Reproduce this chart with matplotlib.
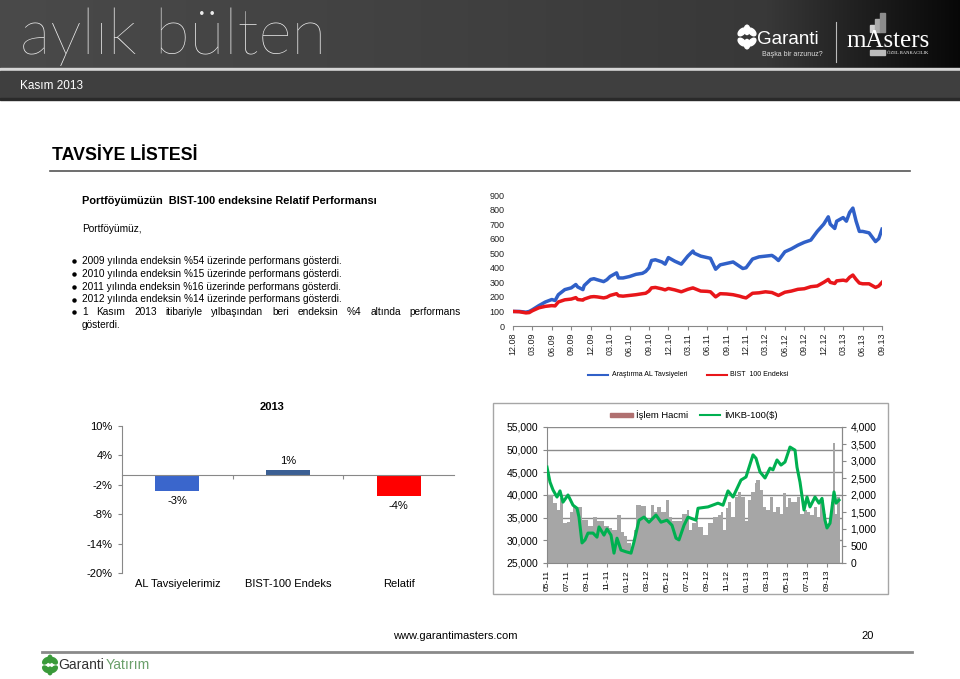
import numpy as np
import matplotlib
matplotlib.use('Agg')
import matplotlib.pyplot as plt
from matplotlib.patches import Rectangle, Ellipse
from matplotlib.lines import Line2D
from matplotlib.ticker import FuncFormatter
import matplotlib.transforms as mtransforms

plt.rcParams['font.family'] = ['Liberation Sans', 'DejaVu Sans']

# ---------------- DATA ----------------
# Chart 1: relative performance (months since Dec 2008)
perf_tick_labels = ['12.08', '03.09', '06.09', '09.09', '12.09', '03.10', '06.10', '09.10',
                    '12.10', '03.11', '06.11', '09.11', '12.11', '03.12', '06.12', '09.12',
                    '12.12', '03.13', '06.13', '09.13']
perf_months = [0, 1, 2, 2.5, 3, 4, 5, 6, 6.5, 7, 8, 9, 9.7, 10, 10.8, 11, 12, 12.5, 13, 14,
               14.5, 15, 16, 16.3, 17, 18, 19, 20, 20.5, 21, 21.4, 22, 23, 23.5, 24, 25, 26, 27,
               27.8, 28, 29, 30, 30.5, 31.3, 32, 33, 34, 35, 35.5, 36, 37, 38, 39, 40, 40.5, 41,
               42, 43, 44, 45, 46, 47, 48, 48.7, 49, 49.7, 50, 51, 51.5, 52, 52.5, 53, 53.5, 54,
               55, 56, 56.5, 57]
al_tavsiye = [100, 100, 95, 100, 112, 140, 165, 182, 175, 215, 250, 262, 285, 268, 250, 278, 320,
              325, 318, 305, 318, 340, 365, 330, 330, 340, 355, 362, 375, 400, 450, 455, 440, 425,
              470, 445, 425, 480, 515, 500, 480, 470, 465, 390, 420, 430, 440, 410, 395, 400, 460,
              475, 480, 485, 470, 450, 510, 530, 555, 575, 590, 650, 700, 750, 700, 670, 720, 745,
              720, 780, 810, 720, 650, 650, 640, 580, 600, 665]
bist100 = [100, 98, 90, 92, 105, 125, 135, 140, 138, 165, 180, 185, 195, 182, 178, 185, 200, 202,
           200, 193, 198, 210, 222, 208, 205, 210, 215, 222, 225, 240, 262, 265, 255, 248, 258,
           248, 235, 252, 262, 258, 240, 238, 235, 200, 222, 220, 215, 205, 198, 193, 225, 228,
           235, 230, 220, 210, 232, 240, 252, 256, 270, 275, 300, 320, 300, 292, 310, 315, 310,
           335, 350, 320, 295, 290, 290, 265, 275, 300]

# Chart 2: 2013 returns
bar_categories = ['AL Tavsiyelerimiz', 'BIST-100 Endeks', 'Relatif']
bar_values = [-3.2, 1.1, -4.3]
bar_labels = ['-3%', '1%', '-4%']

# Chart 3: volume and index (months since May 2011)
vol_tick_labels = ['05-11', '07-11', '09-11', '11-11', '01-12', '03-12', '05-12', '07-12',
                   '09-12', '11-12', '01-13', '03-13', '05-13', '07-13', '09-13']
vol_months = [0.0, 0.3, 0.6, 1.0, 1.3, 1.6, 2.0, 2.3, 2.6, 3.1, 3.5, 3.8, 4.1, 4.6, 5.0, 5.4, 5.7,
              6.2, 6.5, 7.0, 7.4, 7.7, 8.0, 8.4, 8.7, 8.9, 9.4, 9.9, 10.4, 10.7, 11.0, 11.4, 11.9,
              12.2, 12.5, 13.0, 13.5, 14.0, 14.2, 14.5, 14.9, 15.1, 15.6, 16.1, 16.6, 17.1, 17.4,
              17.6, 17.9, 18.1, 18.4, 18.8, 19.1, 19.4, 19.8, 20.1, 20.4, 20.8, 20.9, 21.3, 21.6,
              21.9, 22.3, 22.6, 22.9, 23.3, 23.6, 23.9, 24.1, 24.4, 24.8, 25.0, 25.3, 25.7, 26.0,
              26.3, 26.7, 27.0, 27.3, 27.7, 27.9, 28.2, 28.4, 28.6, 28.8, 29.0]
islem_hacmi = [40000, 40000, 38200, 36700, 39300, 33800, 34000, 36200, 37400, 37400, 34500, 34500,
               33200, 35100, 34300, 34300, 33200, 32700, 32300, 35600, 31800, 31000, 29400, 28300,
               32300, 37800, 37500, 34300, 37800, 36200, 37300, 36200, 38900, 35100, 34300, 34300,
               35800, 36700, 32300, 33900, 34300, 33000, 31200, 33900, 35100, 35600, 36200, 32300,
               37100, 38400, 35100, 39600, 40700, 39600, 34300, 38900, 40700, 42600, 43300, 41000,
               37400, 36700, 39600, 36200, 37300, 35800, 40500, 37400, 39300, 38400, 38400, 39600,
               35800, 36700, 36200, 35600, 37400, 35100, 38900, 35800, 32700, 34300, 38400, 51400,
               35800, 39600]
idx_months = [0, 0.3, 0.6, 1.0, 1.3, 1.6, 2.1, 2.6, 3.0, 3.2, 3.5, 3.8, 4.1, 4.6, 5.0, 5.2, 5.7,
              6.0, 6.4, 6.7, 7.0, 7.4, 7.9, 8.4, 8.7, 9.2, 9.7, 10.2, 10.9, 11.4, 12.0, 12.5, 12.9,
              13.2, 13.7, 14.1, 14.9, 15.1, 16.1, 17.1, 17.6, 18.1, 18.6, 19.4, 19.9, 20.6, 20.9,
              21.3, 21.8, 22.3, 22.6, 23.0, 23.4, 23.8, 24.3, 24.8, 25.0, 25.3, 25.7, 26.0, 26.3,
              26.8, 27.2, 27.5, 27.8, 28.0, 28.3, 28.7, 28.9, 29.2]
imkb100_usd = [2820, 2380, 2150, 1940, 2120, 1790, 2000, 1700, 1610, 1350, 590, 680, 880, 880, 760,
               1060, 820, 1000, 820, 290, 730, 380, 330, 290, 620, 1260, 1350, 1200, 1410, 1200,
               1260, 1110, 730, 680, 1110, 1350, 1260, 1610, 1650, 1760, 1700, 2120, 1940, 2440,
               2530, 3180, 3080, 2680, 2500, 2790, 2740, 3030, 2880, 2970, 3410, 3320, 2820, 2380,
               1560, 1940, 1650, 1940, 1760, 1900, 1260, 1030, 1170, 2090, 1760, 1850]

BLUE = '#3060c8'
RED = '#e8161a'
GREEN = '#00b050'

# ---------------- FIGURE ----------------
W, H = 960, 679
fig = plt.figure(figsize=(9.6, 6.79), dpi=100)
fig.patch.set_facecolor('white')
bg = fig.add_axes([0, 0, 1, 1])
bg.axis('off')


def rect(x0, y0, x1, y1):
    return [x0 / W, 1 - y1 / H, (x1 - x0) / W, (y1 - y0) / H]


# header gradient
xs = np.linspace(0, 1, 480)
g = np.interp(xs, [0, 0.5, 0.8, 0.9, 1.0], [0.29, 0.25, 0.22, 0.12, 0.03])
img = np.dstack([g, g, g])
bg.imshow(img, extent=[0, 960, 68, 0], aspect='auto', zorder=0, interpolation='bilinear')
bg.add_patch(Rectangle((0, 68), 960, 3, color='#d6d6d6', zorder=1))
bg.add_patch(Rectangle((0, 71), 960, 28, color='#3f3f3f', zorder=1))
bg.add_patch(Rectangle((0, 98), 960, 2, color='#2a2a2a', zorder=1))
bg.set_xlim(0, W)
bg.set_ylim(H, 0)

bg.text(20, 54, 'aylık bülten', fontsize=46, family=['Lato', 'DejaVu Sans'], weight='light',
        color='#ececec', va='baseline', zorder=3)
bg.text(20, 86, 'Kasım 2013', fontsize=8.5, color='white', va='center', zorder=3)


def clover(cx, cy, s, color):
    for ang in [45, 135, 225, 315, 90, 270]:
        r = np.deg2rad(ang)
        ex = cx + 0.42 * s * np.cos(r)
        ey = cy + 0.42 * s * np.sin(r)
        bg.add_patch(Ellipse((ex, ey), 0.55 * s, 0.32 * s, angle=-ang, color=color, zorder=3))


clover(747, 37, 17, 'white')
bg.text(757, 39, 'Garanti', fontsize=13.5, color='white', va='center', zorder=3)
bg.text(762, 54, 'Başka bir arzunuz?', fontsize=5, color='#dddddd', va='center', zorder=3)
bg.plot([836, 836], [22, 62], color='#bbbbbb', lw=0.8, zorder=3)
for x0, top, c in [(870, 25, '#cfcfcf'), (875, 19, '#a9a9a9'), (880, 13, '#8c8c8c')]:
    bg.add_patch(Rectangle((x0, top), 5, 32 - top, color=c, zorder=3))
bg.text(846, 41, 'mAsters', fontsize=18, family=['Liberation Serif', 'DejaVu Serif'],
        color='white', va='center', zorder=3)
bg.add_patch(Rectangle((870, 50), 15, 5, color='#bbbbbb', zorder=3))
bg.text(887, 53, 'ÖZEL BANKACILIK', fontsize=3.3, family=['Liberation Serif', 'DejaVu Serif'],
        color='white', va='center', zorder=3)

# title
bg.text(52, 155, 'TAVSİYE LİSTESİ', fontsize=12.8, weight='bold', color='black', va='center')
bg.plot([50, 910], [171, 171], color='#555555', lw=1.2)

BODY = 7.3
bg.text(82, 201, 'Portföyümüzün  BIST-100 endeksine Relatif Performansı', fontsize=7.9,
        weight='bold', va='center')
bg.text(82, 229, 'Portföyümüz,', fontsize=BODY, va='center')
bullets = ['2009 yılında endeksin %54 üzerinde performans gösterdi.',
           '2010 yılında endeksin %15 üzerinde performans gösterdi.',
           '2011 yılında endeksin %16 üzerinde performans gösterdi.',
           '2012 yılında endeksin %14 üzerinde performans gösterdi.',
           '1 Kasım 2013 itibariyle yılbaşından beri endeksin %4 altında performans']
by = [261, 274, 287, 299.5, 312]
for t, y in zip(bullets[:-1], by[:-1]):
    bg.plot([73.5], [y], marker='o', ms=2.2, color='black')
    bg.text(82, y, t, fontsize=BODY, va='center')
# justified first line of the wrapped last bullet
bg.plot([73.5], [by[-1]], marker='o', ms=2.2, color='black')
words = bullets[-1].split(' ')
wtexts = [bg.text(0, by[-1], w, fontsize=BODY, va='center') for w in words]
bg.text(82, 325, 'gösterdi.', fontsize=BODY, va='center')

# ---------------- CHART 1 ----------------
ax1 = fig.add_axes(rect(513, 195, 882, 326))
ax1.set_facecolor('none')
ax1.plot(perf_months, al_tavsiye, color=BLUE, lw=2.5, solid_joinstyle='round')
ax1.plot(perf_months, bist100, color=RED, lw=2.5, solid_joinstyle='round')
ax1.set_xlim(0, 57)
ax1.set_ylim(0, 900)
ax1.set_yticks(range(0, 901, 100))
ax1.set_xticks(range(0, 58, 3))
ax1.set_xticklabels(perf_tick_labels, rotation=90, fontsize=6.5)
ax1.tick_params(axis='y', length=0, labelsize=6.5, pad=6, labelcolor='#222222')
ax1.tick_params(axis='x', length=3, color='#888888', labelcolor='#222222', pad=2)
for s in ['top', 'right', 'left']:
    ax1.spines[s].set_visible(False)
ax1.spines['bottom'].set_color('#888888')

bg.add_line(Line2D([588, 608], [375, 375], color=BLUE, lw=1.5))
bg.text(612, 375, 'Araştırma AL Tavsiyeleri', fontsize=5, va='center')
bg.add_line(Line2D([707, 727], [375, 375], color=RED, lw=1.5))
bg.text(730, 375, 'BIST  100 Endeksi', fontsize=5, va='center')

# ---------------- CHART 2 ----------------
ax2 = fig.add_axes(rect(122, 426, 454, 573))
ax2.set_facecolor('none')
bar_colors = ['#3a66cc', '#3b5f93', '#ff0000']
ax2.bar(range(3), bar_values, width=0.4, color=bar_colors, zorder=2)
for i, (v, lab) in enumerate(zip(bar_values, bar_labels)):
    off = -10 if v < 0 else 9
    ax2.annotate(lab, (i, v), xytext=(0, off), textcoords='offset pixels', ha='center',
                 va='center', fontsize=8)
ax2.set_xlim(-0.5, 2.5)
ax2.set_ylim(-20, 10)
ax2.set_yticks([-20, -14, -8, -2, 4, 10])
ax2.yaxis.set_major_formatter(FuncFormatter(lambda v, p: f'{int(v)}%'))
ax2.tick_params(axis='y', length=3, color='#888888', labelsize=8, pad=4)
ax2.spines['bottom'].set_position(('data', 0))
ax2.spines['bottom'].set_color('#888888')
ax2.spines['left'].set_color('#888888')
for s in ['top', 'right']:
    ax2.spines[s].set_visible(False)
ax2.set_xticks([0.5, 1.5])
ax2.set_xticklabels(['', ''])
ax2.tick_params(axis='x', length=3, color='#888888', direction='out')
trans = mtransforms.blended_transform_factory(ax2.transData, ax2.transAxes)
for i, c in enumerate(bar_categories):
    ax2.text(i, -0.075, c, transform=trans, ha='center', va='center', fontsize=8)
bg.text(272, 407, '2013', fontsize=8, weight='bold', ha='center', va='center')

# ---------------- CHART 3 ----------------
bg.add_patch(Rectangle((493, 403), 395, 191, fill=False, edgecolor='#a6a6a6', lw=1))
ax3 = fig.add_axes(rect(547, 427, 842, 563))
ax3.set_facecolor('none')
widths = list(np.diff(vol_months)) + [0.3]
ax3.bar(vol_months, islem_hacmi, width=widths, align='edge', color='#a6a6a6', zorder=2,
        linewidth=0)
ax3.set_xlim(0, 29.5)
ax3.set_ylim(25000, 55000)
ax3.set_yticks(range(25000, 55001, 5000))
ax3.yaxis.set_major_formatter(FuncFormatter(lambda v, p: f'{int(v):,}'))
ax3.grid(axis='y', color='#8c8c8c', lw=1, zorder=0)
ax3.set_axisbelow(True)
ax3.set_xticks(range(0, 29, 2))
ax3.set_xticklabels(vol_tick_labels, rotation=90, fontsize=6)
ax3.tick_params(axis='y', labelsize=7.5, length=3, color='#888888', pad=3)
ax3.tick_params(axis='x', length=3, color='#888888', pad=2)
ax3.spines['top'].set_visible(False)
for s in ['left', 'bottom', 'right']:
    ax3.spines[s].set_color('#888888')

ax3r = ax3.twinx()
ax3r.plot(idx_months, imkb100_usd, color=GREEN, lw=2.2, zorder=3)
ax3r.set_ylim(0, 4000)
ax3r.set_yticks(range(0, 4001, 500))
ax3r.yaxis.set_major_formatter(FuncFormatter(lambda v, p: f'{int(v):,}'))
ax3r.tick_params(axis='y', labelsize=7.5, length=3, color='#888888', pad=3)
ax3r.spines['top'].set_visible(False)
ax3r.spines['right'].set_color('#888888')
ax3r.spines['left'].set_visible(False)
ax3r.spines['bottom'].set_visible(False)

bg.add_patch(Rectangle((610, 413), 23, 4, color='#b07070'))
bg.text(636, 415, 'İşlem Hacmi', fontsize=6.8, va='center')
bg.add_line(Line2D([700, 720], [415, 415], color=GREEN, lw=1.5))
bg.text(724, 415, 'İMKB-100($)', fontsize=6.8, va='center')

# ---------------- FOOTER ----------------
bg.text(455, 636, 'www.garantimasters.com', fontsize=8, ha='center', va='center')
bg.text(868, 636, '20', fontsize=8, ha='center', va='center')
bg.plot([42, 912], [652, 652], color='#8a8a8a', lw=2)
clover(50, 665, 14, '#3a9a3a')
bg.text(58, 665, 'Garanti', fontsize=10, color='#333333', va='center')
bg.text(106, 665, 'Yatırım', fontsize=10, color='#6a9f6a', va='center')

# justify the wrapped line between x=82 and x=461
fig.canvas.draw()
renderer = fig.canvas.get_renderer()
wws = [t.get_window_extent(renderer).width for t in wtexts]
gap = (461 - 82 - sum(wws)) / (len(wws) - 1)
xpos = 82
for t, ww in zip(wtexts, wws):
    t.set_x(xpos)
    xpos += ww + gap

fig.savefig('out.png', dpi=100)
